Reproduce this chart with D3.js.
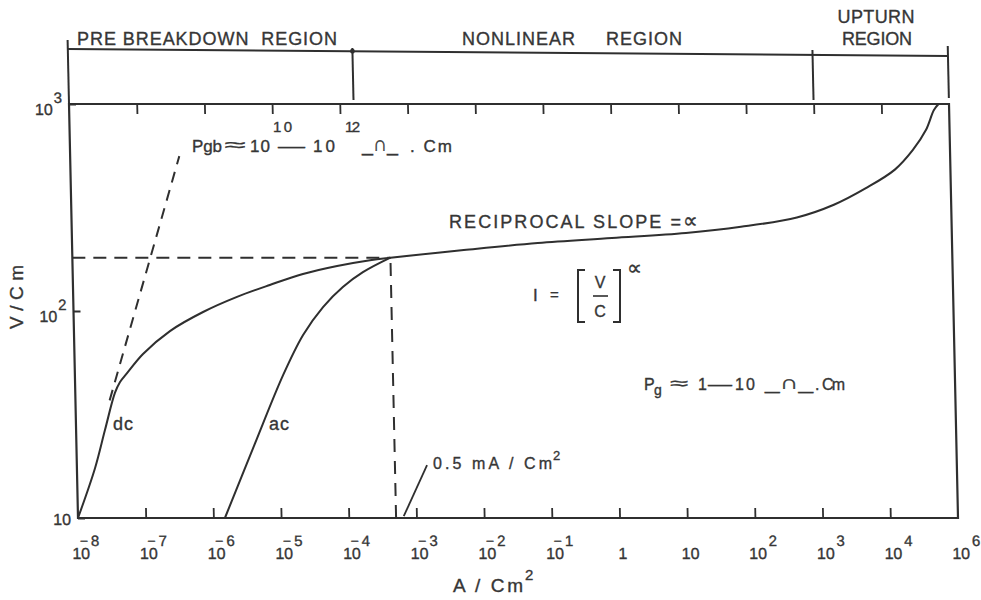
<!DOCTYPE html>
<html><head><meta charset="utf-8">
<script src="https://cdn.jsdelivr.net/npm/d3@7"></script>
<style>
html,body{margin:0;padding:0;background:#fff;}
svg{display:block;}
text{font-family:"Liberation Sans",Arial,sans-serif;fill:#363636;stroke:#363636;stroke-width:0.35px;}
</style></head><body>
<svg id="chart" width="981" height="600"></svg>
<script>
// ---------- data ----------
// dc characteristic: current density (A/cm2) vs field (V/cm)
const dcCurrent = [1e-8, 1.85e-8, 2.67e-8, 3.85e-8, 4.62e-8, 5.9e-8, 1.03e-7, 2.62e-7, 8.2e-7, 2.63e-6, 8.1e-6, 2.52e-5, 8.1e-5, 2.49e-4, 5.0e-4, 6.1e-3, 7.6e-2, 0.95, 11.8, 77, 520, 1850, 5560, 1.51e4, 2.83e4, 4.47e4, 5.96e4, 7.0e4];
const dcField   = [10, 17.4, 26.6, 40.2, 45.4, 50.1, 62.0, 80.0, 98.9, 117, 133.6, 151, 165, 176, 181, 197, 213, 225, 238, 255, 283, 326, 392, 482, 600, 748, 935, 1000];
// ac characteristic
const acCurrent = [1.48e-6, 4.2e-6, 1.19e-5, 2.42e-5, 4.87e-5, 9.7e-5, 1.94e-4, 5.0e-4];
const acField   = [10, 22.3, 49, 76.6, 104.5, 130.6, 154, 181];
// grain-boundary resistivity line (dashed)
const gbCurrent = [3.2e-8, 4.1e-7];
const gbField   = [37, 560];
// knee point (0.5 mA/cm2)
const kneeCurrent = 5e-4;
const kneeField = 181;
// leader of the 0.5 mA/cm2 note
const leaderCurrent = [6.5e-4, 1.49e-3];
const leaderField   = [10.2, 18];
// axes
const xTickValues = [1e-8,1e-7,1e-6,1e-5,1e-4,1e-3,1e-2,1e-1,1,10,1e2,1e3,1e4,1e5];
const xTickBase   = ["10","10","10","10","10","10","10","10","1","10","10","10","10","10"];
const xTickSup    = ["−8","−7","−6","−5","−4","−3","−2","−1","","","2","3","4","6"];
const yTickValues = [10, 100, 1000];
const yTickBase   = ["10","10","10"];
const yTickSup    = ["","2","3"];
// regions
const regionBounds = [1e-8, 1.6e-4, 1e3, 1e5];
const regionNames  = ["PRE BREAKDOWN\u00A0\u00A0REGION", "NONLINEAR\u00A0\u00A0\u00A0\u00A0\u00A0REGION", "UPTURN", "REGION"];

// ---------- layout ----------
const L = 78, R = 958, T = 104, B = 518;
const ink = "#2f2f2f";
const svg = d3.select("#chart");
const x = d3.scaleLog().domain([1e-8, 1e5]).range([L, R]);
const y = d3.scaleLog().domain([10, 1000]).range([B, T]);

// the drawing is slightly sheared in the reference
const k = 9 / 414;
const skewDeg = Math.atan(k) * 180 / Math.PI;
const g = svg.append("g")
  .attr("transform", `translate(0,${B}) skewX(${skewDeg}) translate(0,${-B})`);

// frame
g.append("rect").attr("x", L).attr("y", T).attr("width", R - L).attr("height", B - T)
  .attr("fill", "none").attr("stroke", ink).attr("stroke-width", 2.2);

// bottom axis ticks + labels
const xAxisB = d3.axisBottom(x).tickValues(xTickValues).tickSizeInner(-10).tickSizeOuter(0).tickFormat("");
const gxb = g.append("g").attr("transform", `translate(0,${B})`).call(xAxisB);
gxb.select(".domain").remove();
gxb.selectAll(".tick line").attr("stroke", ink).attr("stroke-width", 1.8)
  .filter((d, i) => i === 0 || i === xTickValues.length - 1).remove();
gxb.selectAll(".tick text").each(function(d, i) {
  const t = d3.select(this).text(null).attr("dy", null).attr("y", 41)
    .attr("font-size", 16).attr("fill", "#363636").attr("font-family", null);
  const sup = xTickSup[i];
  if (sup) {
    t.attr("text-anchor", "start").attr("x", -7);
    t.append("tspan").text(xTickBase[i]);
    if (sup.startsWith("−")) {
      t.append("tspan").attr("dx", -10).attr("dy", -13).attr("font-size", 14).text("−");
      t.append("tspan").attr("dx", 3).attr("font-size", 15).text(sup.slice(1));
    } else {
      t.append("tspan").attr("dx", 2).attr("dy", -13).attr("font-size", 15).text(sup);
    }
  } else {
    t.attr("text-anchor", "middle").attr("x", 2).text(xTickBase[i]);
  }
});

// top axis ticks
const xAxisT = d3.axisTop(x).tickValues(xTickValues).tickSizeInner(-10).tickSizeOuter(0).tickFormat("");
const gxt = g.append("g").attr("transform", `translate(0,${T})`).call(xAxisT);
gxt.select(".domain").remove();
gxt.selectAll(".tick text").remove();
gxt.selectAll(".tick line").attr("stroke", ink).attr("stroke-width", 1.8)
  .filter((d, i) => i === 0 || i === xTickValues.length - 1).remove();

// left axis
const yAxis = d3.axisLeft(y).tickValues(yTickValues).tickSizeInner(-7).tickSizeOuter(0).tickFormat("");
const gy = g.append("g").attr("transform", `translate(${L},0)`).call(yAxis);
gy.select(".domain").remove();
gy.selectAll(".tick line").attr("stroke", ink).attr("stroke-width", 1.8);
gy.selectAll(".tick text").each(function(d, i) {
  const sup = yTickSup[i];
  const t = d3.select(this).text(null).attr("dy", null).attr("x", -7)
    .attr("y", sup ? 10 : 6).attr("text-anchor", "end").attr("font-size", 16)
    .attr("fill", "#363636").attr("font-family", null);
  t.append("tspan").text(yTickBase[i]);
  if (sup) t.append("tspan").attr("dx", 1).attr("dy", -12).attr("font-size", 15).text(sup);
});

// region bar
const barY = px => 49 + 7 * (px - L) / (R - L);
const xb0 = x(regionBounds[0]), xb1 = x(regionBounds[regionBounds.length - 1]);
g.append("line").attr("x1", xb0).attr("y1", barY(xb0)).attr("x2", xb1).attr("y2", barY(xb1))
  .attr("stroke", ink).attr("stroke-width", 2);
const regTop = [40, 48, 50, 46], regBot = [T, 100, 100, 98];
g.selectAll(".regline").data(regionBounds).join("line").attr("class", "regline")
  .attr("x1", d => x(d)).attr("x2", d => x(d))
  .attr("y1", (d, i) => regTop[i]).attr("y2", (d, i) => regBot[i])
  .attr("stroke", ink).attr("stroke-width", 2);
g.append("circle").attr("cx", x(regionBounds[1])).attr("cy", barY(x(regionBounds[1]))).attr("r", 2.4).attr("fill", ink);

// curves
const smooth = d3.line().x(d => x(d[0])).y(d => y(d[1])).curve(d3.curveCatmullRom.alpha(0.5));
const straight = d3.line().x(d => x(d[0])).y(d => y(d[1]));
g.append("path").attr("d", smooth(d3.zip(dcCurrent, dcField)))
  .attr("fill", "none").attr("stroke", ink).attr("stroke-width", 2);
g.append("path").attr("d", smooth(d3.zip(acCurrent, acField)))
  .attr("fill", "none").attr("stroke", ink).attr("stroke-width", 2);
// dashed guides
g.append("path").attr("d", straight(d3.zip(gbCurrent, gbField)))
  .attr("fill", "none").attr("stroke", ink).attr("stroke-width", 2).attr("stroke-dasharray", "11,8");
g.append("path").attr("d", straight([[1e-8, kneeField], [kneeCurrent, kneeField]]))
  .attr("fill", "none").attr("stroke", ink).attr("stroke-width", 2).attr("stroke-dasharray", "13,8");
g.append("path").attr("d", straight([[kneeCurrent, 10], [kneeCurrent, kneeField]]))
  .attr("fill", "none").attr("stroke", ink).attr("stroke-width", 2).attr("stroke-dasharray", "13,9");
g.append("path").attr("d", straight(d3.zip(leaderCurrent, leaderField)))
  .attr("fill", "none").attr("stroke", ink).attr("stroke-width", 1.8);

// ---------- texts ----------
const txt = (s, px, py, size, opts = {}) => {
  const t = svg.append("text").attr("x", px).attr("y", py).attr("font-size", size).text(s);
  if (opts.anchor) t.attr("text-anchor", opts.anchor);
  if (opts.len) t.attr("textLength", opts.len).attr("lengthAdjust", opts.adj || "spacing");
  return t;
};
// region labels
txt(regionNames[0], 207, 45, 18, {anchor: "middle", len: 260});
txt(regionNames[1], 462, 45, 18, {len: 220});
txt(regionNames[2], 876, 23, 18, {anchor: "middle", len: 77});
txt(regionNames[3], 877, 45, 18, {anchor: "middle", len: 70});

// axis titles
txt("V/Cm", 0, 0, 19, {anchor: "middle", len: 64}).attr("transform", "translate(23,297) rotate(-90)");
txt("A / Cm", 453, 592, 19, {len: 70});
txt("2", 525, 580, 15);

// Pgb note
txt("Pgb", 192, 152, 17, {len: 30});
txt("≈", 225, 151, 18, {len: 21, adj: "spacingAndGlyphs"});
txt("10", 250, 152, 17, {len: 20});
txt("10", 273, 132, 15, {len: 19});
txt("—", 278, 152, 17, {len: 27, adj: "spacingAndGlyphs"});
txt("10", 313, 152, 17, {len: 22});
txt("12", 345, 132, 15, {len: 15});
txt("_∩_", 362, 151, 21, {len: 36, adj: "spacingAndGlyphs"});
txt(". Cm", 410, 152, 17, {len: 42});

// reciprocal slope
txt("RECIPROCAL SLOPE =", 449, 228, 18, {len: 232});
txt("∝", 683, 228, 22, {len: 15, adj: "spacingAndGlyphs"});

// I = [V/C]^alpha
txt("I", 533, 301, 17);
txt("=", 550, 300, 15);
txt("V", 600, 288, 16, {anchor: "middle"});
txt("C", 600, 317, 16, {anchor: "middle"});
txt("∝", 627, 275, 21, {len: 15, adj: "spacingAndGlyphs"});
svg.append("line").attr("x1", 593).attr("x2", 608).attr("y1", 296).attr("y2", 296).attr("stroke", ink).attr("stroke-width", 1.6);
svg.append("path").attr("d", "M585,270 L578,270 L578,322 L585,322").attr("fill", "none").attr("stroke", ink).attr("stroke-width", 2);
svg.append("path").attr("d", "M613,270 L620,270 L620,322 L613,322").attr("fill", "none").attr("stroke", ink).attr("stroke-width", 2);

// curve labels
txt("dc", 113, 430, 18, {len: 20});
txt("ac", 269, 430, 18, {len: 20});

// Pg note
txt("P", 644, 390, 16);
txt("g", 654, 395, 14);
txt("≈", 670, 389, 17, {len: 18, adj: "spacingAndGlyphs"});
txt("1", 698, 390, 16);
txt("—", 708, 390, 16, {len: 24, adj: "spacingAndGlyphs"});
txt("10", 735, 390, 16, {len: 20});
txt("_∩_", 765, 389, 19, {len: 48, adj: "spacingAndGlyphs"});
txt(".", 815, 390, 16);
txt("Cm", 822, 390, 16, {len: 23});

// 0.5 mA note
txt("0.5 mA / Cm", 433, 469, 16, {len: 119});
txt("2", 553, 460, 13);
</script>
</body></html>
